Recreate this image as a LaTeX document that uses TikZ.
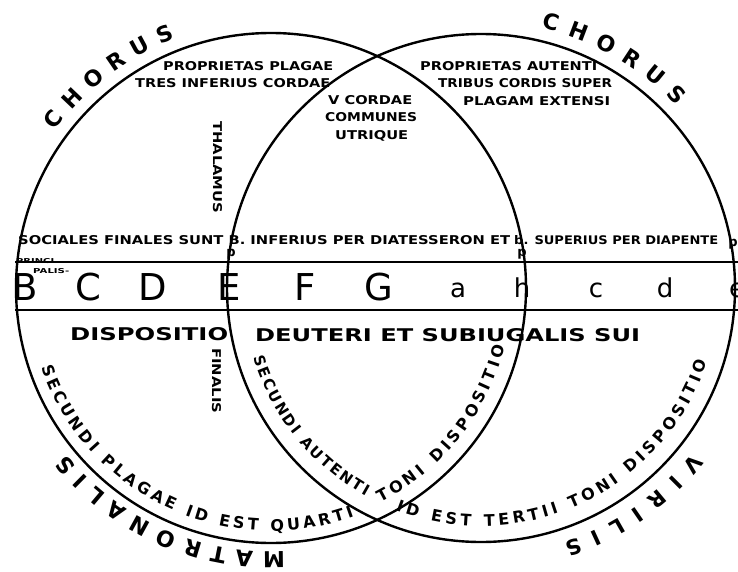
\documentclass[tikz,border=0pt]{standalone}
\usepackage{fontspec}
\setmainfont{DejaVu Sans}
\usepackage{graphicx}
\usetikzlibrary{decorations.text,calc}
\newcommand{\fitt}[3]{\resizebox{#1pt}{#2pt}{\bfseries #3}}
\begin{document}
\begin{tikzpicture}[x=1pt,y=1pt,
  txt/.style={anchor=base west, inner sep=0pt},
  staffbig/.style={anchor=base, inner sep=0pt, font=\fontsize{37}{37}\selectfont},
  staffsmall/.style={anchor=base, inner sep=0pt, font=\fontsize{26}{26}\selectfont},
  pmark/.style={anchor=base, inner sep=0pt, font=\bfseries\fontsize{13}{13}\selectfont},
  ring/.style={line width=2.4pt},
  staffline/.style={line width=1.8pt}]
\fill[white] (0,0) rectangle (738,-572);
\useasboundingbox (0,0) rectangle (738,-572);
\coordinate (L) at (271,-288);
\coordinate (R) at (481,-288);
\draw[ring] (L) circle[radius=255];
\draw[ring] (R) circle[radius=254];
% staff
\coordinate (s1) at (15,-262); \coordinate (s2) at (740,-262);
\coordinate (s3) at (15,-310); \coordinate (s4) at (740,-310);
\draw[staffline] (s1) -- (s2);
\draw[staffline] (s3) -- (s4);
\node[staffbig] (nB) at (25,-300) {B};
\node[staffbig] (nC) at (88,-300) {C};
\node[staffbig] (nD) at (153,-300) {D};
\node[staffbig] (nE) at (229,-300) {E};
\node[staffbig] (nF) at (305,-300) {F};
\node[staffbig] (nG) at (379,-300) {G};
\node[staffsmall] (na) at (458,-297) {a};
\node[staffsmall] (nh) at (522,-297) {h};
\node[staffsmall] (nc) at (596,-297) {c};
\node[staffsmall] (nd) at (665,-297) {d};
\node[staffsmall] (ne) at (737,-297) {e};
\node[pmark] (pE) at (231,-256) {p};
\node[pmark] (pH) at (522,-256) {p};
\node[pmark] (pR) at (733,-246) {p};
% straight texts
\node[txt] (pp) at (163,-71) {\fitt{170}{9}{PROPRIETAS PLAGAE}};
\node[txt] (ti) at (135,-88) {\fitt{195}{9}{TRES INFERIUS CORDAE}};
\node[txt] (vc) at (328,-105) {\fitt{84}{9}{V CORDAE}};
\node[txt] (cm) at (325,-122) {\fitt{92}{9}{COMMUNES}};
\node[txt] (ut) at (335,-140) {\fitt{73}{9}{UTRIQUE}};
\node[txt] (pa) at (420,-71) {\fitt{177}{9}{PROPRIETAS AUTENTI}};
\node[txt] (tc) at (438,-88) {\fitt{174}{9}{TRIBUS CORDIS SUPER}};
\node[txt] (pe) at (463,-106) {\fitt{147}{9}{PLAGAM EXTENSI}};
\node[txt] (so) at (18,-244) {\fitt{492}{9}{SOCIALES FINALES SUNT B. INFERIUS PER DIATESSERON ET}};
\node[txt] (su) at (514,-244) {\fitt{204}{9}{b. SUPERIUS PER DIAPENTE}};
\node[txt] (di) at (70,-340) {\fitt{158}{13}{DISPOSITIO}};
\node[txt] (de) at (255,-341) {\fitt{385}{13}{DEUTERI ET SUBIUGALIS SUI}};
\node[txt, rotate=-90] (th) at (213,-121) {\fitt{92}{9}{THALAMUS}};
\node[txt, rotate=-90] (fi) at (212,-348) {\fitt{65}{9}{FINALIS}};
\node[txt] (pr) at (16,-263) {\fitt{38}{5}{PRINCI}};
\node[txt] (pl) at (33,-273) {\fitt{36}{5}{PALIS-}};
% curved texts
\path[decorate, decoration={text along path, text align=fit to path,
  text={|\bfseries\fontsize{22}{22}\selectfont|CHORUS}}]
  ($(L)+(144:267)$) arc[start angle=144, end angle=111, radius=267];
\path[decorate, decoration={text along path, text align=fit to path,
  text={|\bfseries\fontsize{22}{22}\selectfont|CHORUS}}]
  ($(R)+(77:267)$) arc[start angle=77, end angle=43, radius=267];
\path[decorate, decoration={text along path, text align=fit to path,
  text={|\bfseries\fontsize{22}{22}\selectfont|MATRONALIS}}]
  ($(L)+(273:264)$) arc[start angle=273, end angle=219, radius=264];
\path[decorate, decoration={text along path, text align=fit to path,
  text={|\bfseries\fontsize{21}{21}\selectfont|VIRILIS}}]
  ($(R)+(-38:268)$) arc[start angle=-38, end angle=-72, radius=268];
\path[decorate, decoration={text along path, text align=fit to path,
  text={|\bfseries\fontsize{16}{16}\selectfont|SECUNDI PLAGAE ID EST QUARTI}}]
  ($(L)+(199:243)$) arc[start angle=199, end angle=290, radius=243];
\path[decorate, decoration={text along path, text align=fit to path,
  text={|\bfseries\fontsize{16}{16}\selectfont|TONI DISPOSITIO}}]
  ($(L)+(297:241)$) arc[start angle=297, end angle=346, radius=241];
\path[decorate, decoration={text along path, text align=fit to path,
  text={|\bfseries\fontsize{15}{15}\selectfont|SECUNDI AUTENTI}}]
  ($(R)+(197:238)$) arc[start angle=197, end angle=241, radius=238];
\path[decorate, decoration={text along path, text align=fit to path,
  text={|\bfseries\fontsize{16}{16}\selectfont|ID EST TERTII TONI DISPOSITIO}}]
  ($(R)+(249:238)$) arc[start angle=249, end angle=342, radius=238];
\end{tikzpicture}
\end{document}
